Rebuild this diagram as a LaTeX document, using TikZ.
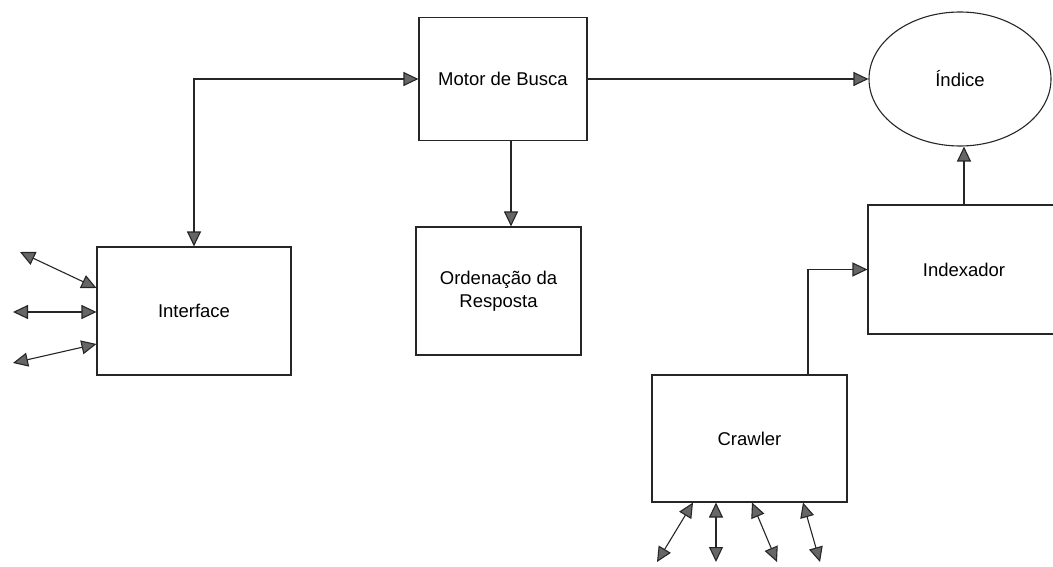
\documentclass[tikz,border=0pt]{standalone}
\usepackage{fontspec}
\setmainfont{Liberation Sans}
\usetikzlibrary{arrows.meta,shapes.geometric}
\begin{document}
\begin{tikzpicture}[x=1pt,y=-1pt,
  font=\fontsize{18.5}{22.5}\selectfont,
  line width=1.1pt,
  tip/.tip={Triangle[length=15pt,width=14pt,fill=black!60]},
  flow/.style={draw=black!85, -tip},
  twoway/.style={draw=black!85, tip-tip},
  block/.style={draw=black!85, rectangle, align=center, inner sep=0pt},
  store/.style={draw=black!85, ellipse, inner sep=0pt, minimum width=182pt, minimum height=134pt}]
\useasboundingbox (0,0) rectangle (1053,567);

% main components
\node[block, minimum width=194pt, minimum height=128pt] (interface) at (194,311) {Interface};
\node[block, minimum width=168pt, minimum height=123pt] (motor) at (503,79) {Motor de Busca};
\node[block, minimum width=165pt, minimum height=128pt] (ordem) at (498.5,291) {Ordenação da\\Resposta};
\node[store] (indice) at (960,79) {Índice};
\node[block, minimum width=192pt, minimum height=129pt] (indexador) at (964,269.5) {Indexador};
\node[block, minimum width=195pt, minimum height=127pt] (crawler) at (749.5,438.5) {Crawler};

% links between components
\draw[twoway] (interface.north) |- (motor.west);
\draw[flow] (motor.east) -- (indice.west);
\draw[flow] ([xshift=8pt]motor.south) -- ([xshift=8pt]motor.south |- ordem.north);
\draw[flow] (indexador.north) -- (indexador.north |- indice.south);
\draw[flow] ([xshift=58.5pt]crawler.north) |- (indexador.west);

% user side of the interface
\coordinate (u1) at (20,252);
\coordinate (u2) at (13,312);
\coordinate (u3) at (13,363);
\draw[twoway] (u1) -- (interface.west |- 0,288);
\draw[twoway] (u2) -- (interface.west |- 0,312);
\draw[twoway] (u3) -- (interface.west |- 0,344);

% web side of the crawler
\coordinate (w1) at (657,562);
\coordinate (w2) at (716,562);
\coordinate (w3) at (777,562);
\coordinate (w4) at (820,562);
\draw[twoway] (crawler.south -| 693,0) -- (w1);
\draw[twoway] (crawler.south -| 716,0) -- (w2);
\draw[twoway] (crawler.south -| 752,0) -- (w3);
\draw[twoway] (crawler.south -| 803,0) -- (w4);
\end{tikzpicture}
\end{document}
